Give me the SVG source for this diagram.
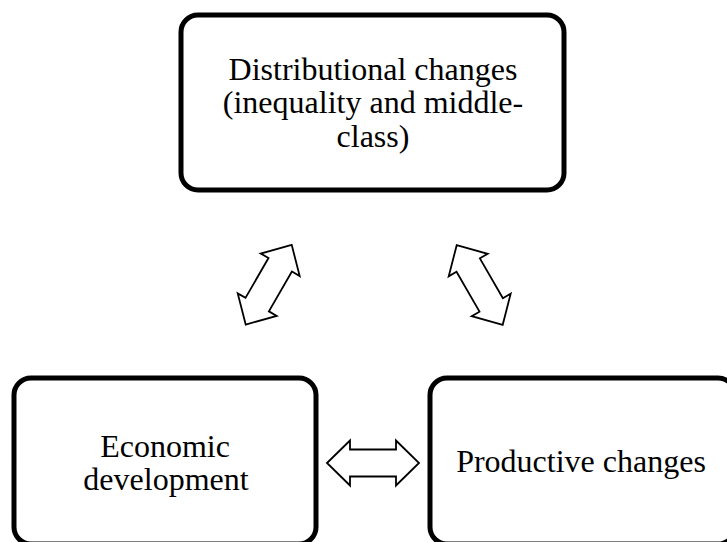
<svg xmlns="http://www.w3.org/2000/svg" xmlns:xlink="http://www.w3.org/1999/xlink" width="727" height="542" viewBox="0 0 727 542">
<style>
.box{fill:#fff;stroke:#000;stroke-width:5}
.lbl{font-family:"Liberation Serif","Times New Roman",serif;font-size:32px;fill:#000;text-anchor:middle}
.arr{fill:#fff;stroke:#000;stroke-width:1.8;stroke-linejoin:miter}
</style>
<defs>
<polygon id="dblArrow" points="-46,0 -23,-22.5 -23,-13.5 23,-13.5 23,-22.5 46,0 23,22.5 23,13.5 -23,13.5 -23,22.5"/>
</defs>
<rect width="727" height="542" fill="#fff"/>
<g id="node-distributional">
<rect class="box" x="181" y="15" width="383" height="175" rx="17" ry="17"/>
<text class="lbl" x="373" y="80">Distributional changes</text>
<text class="lbl" x="373" y="113">(inequality and middle-</text>
<text class="lbl" x="373" y="147">class)</text>
</g>
<g id="node-economic">
<rect class="box" x="14" y="378" width="302" height="166" rx="17" ry="17"/>
<text class="lbl" x="165" y="457">Economic</text>
<text class="lbl" x="166" y="490">development</text>
</g>
<g id="node-productive">
<rect class="box" x="430" y="378" width="305" height="166" rx="17" ry="17"/>
<text class="lbl" x="581" y="472">Productive changes</text>
</g>
<g id="connectors">
<use xlink:href="#dblArrow" class="arr" transform="translate(373,463)"/>
<use xlink:href="#dblArrow" class="arr" transform="translate(268.7,284.7) rotate(-60)"/>
<use xlink:href="#dblArrow" class="arr" transform="translate(479.7,285) rotate(60)"/>
</g>
</svg>
